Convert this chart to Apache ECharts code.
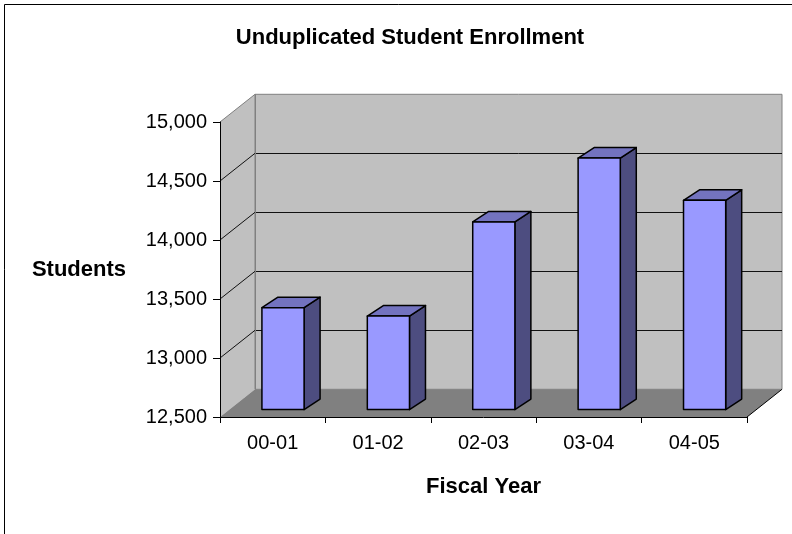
<!DOCTYPE html>
<html>
<head>
<meta charset="utf-8">
<script src="https://cdn.jsdelivr.net/npm/echarts@6/dist/echarts.min.js"></script>
<style>
html,body{margin:0;padding:0;background:#fff;}
#chart{width:792px;height:534px;}
</style>
</head>
<body>
<div id="chart"></div>
<script>
// ---- data ----
const categories = ['00-01', '01-02', '02-03', '03-04', '04-05'];
const enrollment = [13364, 13293, 14090, 14632, 14274];
const yMin = 12500;
const yMax = 15000;
const yStep = 500;
const yTicks = [12500, 13000, 13500, 14000, 14500, 15000];
const titleText = 'Unduplicated Student Enrollment';
const xTitle = 'Fiscal Year';
const yTitle = 'Students';

// ---- 3D styling (pixels) ----
const WALL = { dx: 35, dy: -27.7 };      // depth of the chart box
const BAR_FRONT = { dx: 10.3, dy: -7.4 }; // bar front face offset into the box
const BAR_DEPTH = { dx: 16, dy: -10.5 };  // bar depth
const FONT = '"Liberation Sans", Arial, sans-serif';

const chart = echarts.init(document.getElementById('chart'), null, { renderer: 'canvas' });

function renderBox(params, api) {
  const cs = params.coordSys;
  const x0 = cs.x, x1 = cs.x + cs.width;
  const yb = api.coord([0, yMin])[1];
  const yt = api.coord([0, yMax])[1];
  const dx = WALL.dx, dy = WALL.dy;
  const children = [];
  // left side wall
  children.push({ type: 'polygon', shape: { points: [[x0, yt], [x0 + dx, yt + dy], [x0 + dx, yb + dy], [x0, yb]] },
    style: { fill: '#C0C0C0', stroke: null } });
  // back wall
  children.push({ type: 'rect', shape: { x: x0 + dx, y: yt + dy, width: x1 - x0, height: yb - yt },
    style: { fill: '#C0C0C0', stroke: '#808080', lineWidth: 1 } });
  // floor
  children.push({ type: 'polygon', shape: { points: [[x0, yb], [x1, yb], [x1 + dx, yb + dy], [x0 + dx, yb + dy]] },
    style: { fill: '#808080', stroke: null } });
  // gridlines
  yTicks.forEach(function (v) {
    if (v === yMin) return;
    const y = Math.round(api.coord([0, v])[1] + dy) + 0.5;
    const yf = api.coord([0, v])[1];
    const isTop = v === yMax;
    if (!isTop) {
      children.push({ type: 'line', shape: { x1: x0 + dx, y1: y, x2: x1 + dx, y2: y },
        style: { stroke: '#111', lineWidth: 1 } });
    }
    children.push({ type: 'line', shape: { x1: x0, y1: yf, x2: x0 + dx, y2: yf + dy },
      style: { stroke: isTop ? '#808080' : '#111', lineWidth: 1 } });
  });
  // back-left vertical edge of side wall
  children.push({ type: 'line', shape: { x1: x0 + dx + 0.5, y1: yt + dy, x2: x0 + dx + 0.5, y2: yb + dy },
    style: { stroke: '#808080', lineWidth: 1 } });
  // floor front-right edge
  children.push({ type: 'line', shape: { x1: x1, y1: yb, x2: x1 + dx, y2: yb + dy },
    style: { stroke: '#000', lineWidth: 1 } });
  return { type: 'group', children: children };
}

function renderBar(params, api) {
  const idx = api.value(0);
  const val = api.value(1);
  const top = api.coord([idx, val]);
  const base = api.coord([idx, yMin]);
  const bw = api.size([1, 0])[0] * 0.4;
  const xl = top[0] - bw / 2 + BAR_FRONT.dx;
  const xr = xl + bw;
  const yt = top[1] + BAR_FRONT.dy;
  const yb = base[1] + BAR_FRONT.dy;
  const ddx = BAR_DEPTH.dx, ddy = BAR_DEPTH.dy;
  const stroke = { stroke: '#000', lineWidth: 1.5, lineJoin: 'round' };
  return {
    type: 'group',
    children: [
      { type: 'polygon', shape: { points: [[xr, yt], [xr + ddx, yt + ddy], [xr + ddx, yb + ddy], [xr, yb]] },
        style: Object.assign({ fill: '#4D4D80' }, stroke) },
      { type: 'polygon', shape: { points: [[xl, yt], [xr, yt], [xr + ddx, yt + ddy], [xl + ddx, yt + ddy]] },
        style: Object.assign({ fill: '#7373BF' }, stroke) },
      { type: 'rect', shape: { x: xl, y: yt, width: bw, height: yb - yt },
        style: Object.assign({ fill: '#9999FF' }, stroke) }
    ]
  };
}

const option = {
  backgroundColor: '#ffffff',
  animation: false,
  title: {
    text: titleText,
    left: 405,
    top: 22,
    textAlign: 'center',
    textStyle: { fontFamily: FONT, fontSize: 22, fontWeight: 'bold', color: '#000' }
  },
  grid: { left: 220, right: 45, top: 122, bottom: 117, containLabel: false },
  xAxis: {
    type: 'category',
    data: categories,
    boundaryGap: true,
    z: 10,
    axisLine: { show: true, lineStyle: { color: '#000', width: 1 } },
    axisTick: { show: true, length: 6, lineStyle: { color: '#000' } },
    axisLabel: { fontFamily: FONT, fontSize: 20, color: '#000', margin: 16 },
    splitLine: { show: false },
    name: xTitle,
    nameLocation: 'middle',
    nameGap: 59,
    nameTextStyle: { fontFamily: FONT, fontSize: 22, fontWeight: 'bold', color: '#000' }
  },
  yAxis: {
    type: 'value',
    min: yMin,
    max: yMax,
    interval: yStep,
    z: 10,
    axisLine: { show: true, lineStyle: { color: '#000', width: 1 } },
    axisTick: { show: true, length: 7, lineStyle: { color: '#000' } },
    axisLabel: { fontFamily: FONT, fontSize: 20, color: '#000', margin: 13,
      formatter: function (v) { return v.toLocaleString('en-US'); } },
    splitLine: { show: false },
    name: yTitle,
    nameLocation: 'middle',
    nameRotate: 0,
    nameGap: 94,
    nameTextStyle: { fontFamily: FONT, fontSize: 22, fontWeight: 'bold', color: '#000' }
  },
  graphic: [{
    type: 'rect',
    shape: { x: 4.5, y: 4.5, width: 900, height: 900 },
    style: { fill: null, stroke: '#000', lineWidth: 1 },
    silent: true
  }],
  series: [
    {
      type: 'custom',
      name: 'box',
      coordinateSystem: 'cartesian2d',
      data: [[0, yMin]],
      renderItem: renderBox,
      silent: true,
      z: 1
    },
    {
      type: 'custom',
      name: 'Enrollment',
      coordinateSystem: 'cartesian2d',
      data: categories.map(function (c, i) { return [i, enrollment[i]]; }),
      encode: { x: 0, y: 1 },
      renderItem: renderBar,
      z: 3
    }
  ]
};
chart.setOption(option);
</script>
</body>
</html>
